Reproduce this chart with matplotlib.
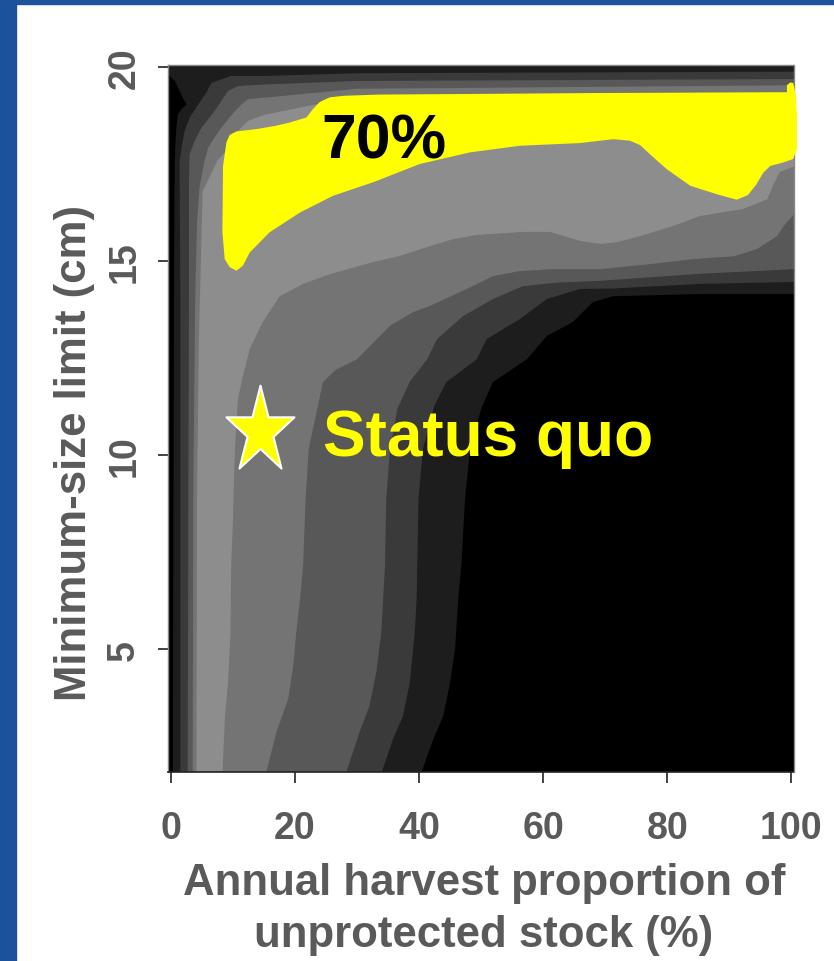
import numpy as np
import matplotlib.pyplot as plt
from matplotlib.path import Path
from matplotlib.patches import Rectangle

# axis ticks
xtick_vals = [0, 20, 40, 60, 80, 100]
ytick_vals = [5, 10, 15, 20]

# gray levels of the surface, darkest (background) to lightest
level_colors = ['#000000', '#1d1d1d', '#3a3a3a', '#585858', '#747474', '#8d8d8d']

# each level: inner edge (left wall then top) and outer edge (bottom then right)
l1_in_x = [0.3, 0.4, 0.5, 0.6, 0.87, 1.1, 1.7, 2.5, 1.9, 1.4, 0.6, -0.5, -0.5, 100.5]
l1_in_y = [1.8, 9.0, 15.0, 17.58, 18.44, 18.79, 18.92, 19.05, 19.22, 19.39, 19.65, 19.82, 20.1, 20.1]
l1_out_x = [40.3, 42.3, 43.9, 45.0, 45.8, 46.3, 46.8, 47.4, 48.2, 50.0, 51.9, 57.4, 60.6, 64.8, 68.0, 71.2, 85.3, 100.5]
l1_out_y = [1.8, 2.69, 3.28, 4.15, 5.01, 6.3, 7.15, 8.87, 10.16, 11.2, 11.89, 12.48, 13.08, 13.44, 13.95, 14.1, 14.16, 14.16]

l2_in_x = [1.5, 1.5, 1.5, 1.4, 1.7, 2.2, 3.0, 4.4, 5.7, 6.5, 9.7, 15.1, 30.0, 100.5]
l2_in_y = [1.8, 9.0, 14.0, 17.59, 17.93, 18.36, 18.70, 19.05, 19.35, 19.60, 19.78, 19.78, 19.85, 19.89]
l2_out_x = [33.9, 35.8, 37.4, 38.5, 39.3, 39.6, 39.9, 40.6, 42.5, 44.4, 49.3, 50.9, 56.2, 60.6, 65.9, 71.2, 85.3, 100.5]
l2_out_y = [1.8, 2.69, 3.28, 4.15, 5.44, 6.3, 8.87, 10.16, 11.3, 11.89, 12.48, 13.0, 13.51, 14.03, 14.29, 14.3, 14.42, 14.47]

l3_in_x = [2.7, 2.8, 2.9, 2.9, 3.0, 3.8, 4.9, 6.0, 7.0, 8.1, 9.2, 10.8, 15.1, 30.0, 100.5]
l3_in_y = [1.8, 9.0, 14.0, 17.0, 17.76, 18.10, 18.44, 18.66, 18.87, 19.13, 19.39, 19.52, 19.56, 19.65, 19.70]
l3_out_x = [28.2, 30.4, 32.0, 33.1, 33.9, 34.5, 34.7, 35.3, 36.5, 38.5, 41.3, 42.9, 47.1, 51.9, 56.7, 62.0, 69.2, 85.3, 100.5]
l3_out_y = [1.8, 2.87, 3.54, 4.41, 5.44, 7.15, 8.87, 10.16, 11.2, 11.9, 12.48, 13.0, 13.59, 14.03, 14.36, 14.45, 14.5, 14.68, 14.8]

l4_in_x = [3.5, 3.6, 3.9, 4.2, 4.6, 5.4, 6.0, 7.0, 8.1, 9.2, 10.3, 11.4, 12.4, 15.1, 30.0, 100.5]
l4_in_y = [1.8, 9.0, 14.0, 16.0, 16.9, 17.59, 17.93, 18.19, 18.44, 18.66, 18.87, 19.05, 19.18, 19.22, 19.45, 19.54]
l4_out_x = [15.3, 17.0, 18.9, 19.7, 20.2, 20.8, 21.3, 21.7, 22.2, 24.5, 26.5, 30.0, 35.3, 39.0, 41.7, 47.7,
            51.9, 56.2, 61.6, 69.2, 77.3, 84.2, 90.7, 94.5, 97.7, 99.0, 100.5]
l4_out_y = [1.8, 2.87, 3.72, 4.57, 5.44, 6.3, 7.15, 8.87, 10.16, 11.89, 12.2, 12.48, 13.34, 13.69, 13.85, 14.29,
            14.62, 14.75, 14.8, 14.8, 14.93, 15.06, 15.13, 15.32, 15.65, 15.96, 16.22]

l5_in_x = [4.1, 4.2, 4.5, 5.1, 7.5, 8.9, 9.7, 10.8, 12.4, 15.1, 25.0, 40.0, 100.5]
l5_in_y = [1.8, 9.0, 13.0, 16.8, 17.6, 17.84, 18.1, 18.36, 18.62, 18.78, 19.1, 19.3, 19.36]
l5_out_x = [8.3, 8.7, 9.2, 9.6, 9.7, 10.0, 10.3, 10.8, 11.6, 12.7, 14.8, 17.5, 21.3, 25.6, 32.5, 36.9, 41.7,
            45.4, 49.3, 56.7, 61.1, 65.9, 69.2, 72.0, 75.6, 80.9, 85.3, 92.2, 96.1, 97.0, 98.1, 100.5]
l5_out_y = [1.8, 3.28, 4.15, 5.44, 7.15, 8.36, 10.16, 11.45, 12.05, 12.74, 13.44, 14.1, 14.42, 14.67, 14.98, 15.14, 15.39,
            15.57, 15.68, 15.76, 15.76, 15.53, 15.45, 15.5, 15.65, 15.91, 16.17, 16.35, 16.60, 16.94, 17.30, 17.45]

levels = [(l1_in_x, l1_in_y, l1_out_x, l1_out_y),
          (l2_in_x, l2_in_y, l2_out_x, l2_out_y),
          (l3_in_x, l3_in_y, l3_out_x, l3_out_y),
          (l4_in_x, l4_in_y, l4_out_x, l4_out_y),
          (l5_in_x, l5_in_y, l5_out_x, l5_out_y)]

# hand drawn 70% region
yellow_x = [8.94, 9.47, 10.55, 13.77, 16.73, 19.15, 21.84, 22.90, 24.0, 25.6, 28.0, 33.6, 43.3, 69.2, 99.3,
            99.3, 99.8, 100.3, 100.7, 100.9, 100.9, 100.3, 98.7, 96.6, 95.5, 94.3, 93.0, 91.2, 88.0, 83.7,
            79.9, 77.7, 75.6, 74.0, 71.3, 65.9, 56.2, 48.2, 40.1, 32.6, 26.1, 20.8, 15.9, 12.7, 11.6,
            10.55, 9.47, 8.66, 8.29, 8.34, 8.39]
yellow_y = [18.07, 18.26, 18.35, 18.41, 18.49, 18.58, 18.71, 18.93, 19.11, 19.23, 19.27, 19.30, 19.31, 19.34, 19.36,
            19.54, 19.61, 19.60, 19.31, 18.75, 17.89, 17.64, 17.55, 17.46, 17.29, 16.97, 16.71, 16.59, 16.73, 16.95,
            17.38, 17.69, 18.0, 18.11, 18.15, 18.05, 17.98, 17.81, 17.51, 17.04, 16.69, 16.26, 15.75, 15.23, 14.89,
            14.76, 14.85, 15.06, 15.75, 16.61, 17.46]

status_quo = (14.3, 10.63)

text_gray = '#5a5a5a'
font = 'Liberation Sans'

fig = plt.figure(figsize=(8.34, 9.62), dpi=100)
fig.patches.append(Rectangle((0, 0), 16 / 834, 1, transform=fig.transFigure, color='#1c529b', zorder=0))
fig.patches.append(Rectangle((0, 1 - 5 / 962), 1, 5 / 962, transform=fig.transFigure, color='#1c529b', zorder=0))

ax = fig.add_axes([168 / 834, (962 - 773.3) / 962, 625.5 / 834, 707.6 / 962])
ax.set_facecolor(level_colors[0])

for (inx, iny, outx, outy), col in zip(levels, level_colors[1:]):
    ax.fill(inx + outx[::-1], iny + outy[::-1], color=col, lw=0)

ax.fill(yellow_x, yellow_y, color='#ffff00', lw=0, clip_on=False, zorder=3)

# squashed five point star
ang = np.pi / 2 + np.arange(10) * np.pi / 5
rad = np.where(np.arange(10) % 2 == 0, 1.0, 0.382)
star = Path(np.column_stack([0.78 * rad * np.cos(ang), rad * np.sin(ang)]).tolist() + [[0, 1]], closed=True)
ax.plot(*status_quo, marker=star, ms=66, mfc='#ffff00', mec='white', mew=1.5, zorder=4, clip_on=False)

ax.text(24.3, 17.69, '70%', ha='left', va='baseline', fontsize=45, fontweight='bold',
        family=font, color='black', zorder=5)
ax.text(24.5, 10.02, 'Status quo', ha='left', va='baseline', fontsize=46, fontweight='bold',
        family=font, color='#ffff00', zorder=5)

ax.set_xlim(-0.48, 100.35)
ax.set_ylim(1.83, 20.07)

ax.set_xticks(xtick_vals)
ax.set_xticklabels([str(v) for v in xtick_vals], fontsize=27, fontweight='bold', family=font, color=text_gray)
ax.set_yticks(ytick_vals)
ax.set_yticklabels([str(v) for v in ytick_vals], fontsize=27, fontweight='bold', family=font, color=text_gray,
                   rotation=90, va='center')
ax.tick_params(axis='x', direction='out', length=8, width=1.2, color='#222222', pad=19)
ax.tick_params(axis='y', direction='out', length=7.5, width=1.2, color='#222222', pad=11)

for side in ['top', 'right', 'left']:
    ax.spines[side].set_color('#888888')
    ax.spines[side].set_linewidth(1)
ax.spines['bottom'].set_color('#222222')
ax.spines['bottom'].set_linewidth(1.2)

fig.text(484 / 834, (962 - 895) / 962, 'Annual harvest proportion of', ha='center', va='baseline',
         fontsize=31.5, fontweight='bold', family=font, color=text_gray)
fig.text(484 / 834, (962 - 947) / 962, 'unprotected stock (%)', ha='center', va='baseline',
         fontsize=31.5, fontweight='bold', family=font, color=text_gray)
fig.text(75 / 834, (962 - 453) / 962, 'Minimum-size limit (cm)', ha='center', va='center', rotation=90,
         fontsize=31.5, fontweight='bold', family=font, color=text_gray)

fig.savefig('out.png', dpi=100)
